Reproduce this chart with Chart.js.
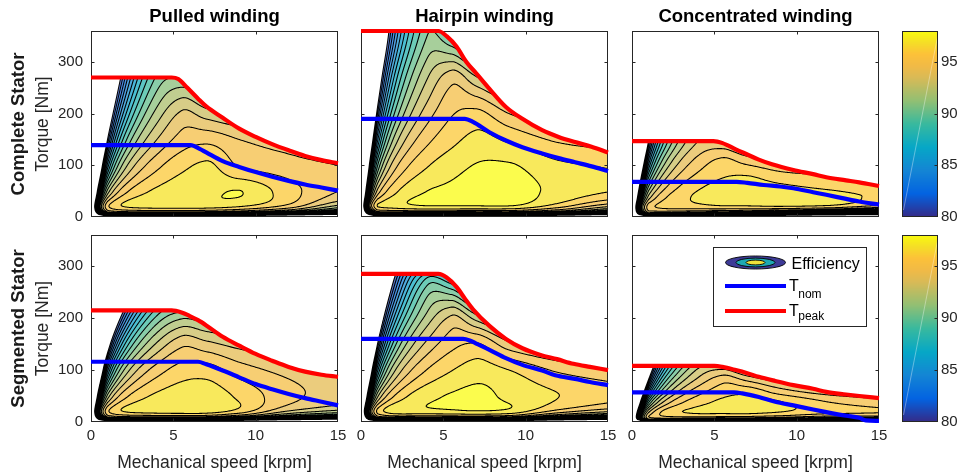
<!DOCTYPE html>
<html>
<head>
<meta charset="utf-8">
<title>Efficiency maps</title>
<script src="https://cdn.jsdelivr.net/npm/chart.js@4.4.1/dist/chart.umd.min.js"></script>
<style>
  html, body { margin: 0; padding: 0; background: #ffffff; }
  #figure { position: relative; width: 968px; height: 474px; overflow: hidden; background: #ffffff; }
  #figure canvas { position: absolute; left: 0; top: 0; }
</style>
</head>
<body>
<div id="figure"></div>
<script>
// ---------------- data ----------------
const speedTicks = [0, 5, 10, 15];
const torqueTicks = [0, 100, 200, 300];
const efficiencyTicks = [80, 85, 90, 95];
const contourLevels = [80, 81, 82, 83, 84, 85, 86, 87, 88, 89, 90, 91, 92, 93, 94, 95, 96, 97];
const windingTitles = ['Pulled winding', 'Hairpin winding', 'Concentrated winding'];
const statorLabels = ['Complete Stator', 'Segmented Stator'];
const speedRange = [0, 15];
const torqueRange = [0, 360];
const efficiencyRange = [80, 98];

// efficiency map samples: rows = torque (Nm), columns = speed (krpm), values in %
const mapSpeeds = [1, 2, 4, 5.5, 7, 9, 12, 15];
const distributedTorques = [5, 20, 50, 100, 150, 200, 270, 360];
const concentratedTorques = [5, 10, 20, 40, 60, 80, 110, 150];

const pulledCompleteEfficiency = [
  [89.5, 89.5, 89.3, 89.2, 89.0, 88.0, 85.0, 80.0],
  [94.8, 96.0, 96.4, 96.4, 96.4, 96.0, 94.5, 91.5],
  [91.3, 94.6, 96.2, 96.6, 96.8, 97.02, 95.4, 94.0],
  [85.3, 91.4, 94.7, 95.7, 96.2, 94.9, 94.4, 94.0],
  [80.0, 88.3, 93.0, 94.4, 94.7, 94.0, 93.3, 92.6],
  [75.3, 85.3, 91.4, 93.2, 92.5, 91.7, 90.8, 90.1],
  [69.5, 81.5, 89.2, 90.0, 88.6, 87.4, 86.2, 85.3],
  [63.3, 77.1, 86.5, 83.4, 81.5, 79.9, 78.5, 77.6]
];
const hairpinCompleteEfficiency = [
  [89.5, 89.3, 89.0, 88.8, 88.6, 88.4, 86.5, 82.0],
  [96.0, 96.4, 96.8, 96.8, 96.8, 96.8, 95.3, 93.0],
  [93.3, 95.7, 97.0, 97.2, 97.4, 97.45, 96.7, 96.05],
  [88.9, 93.5, 95.9, 96.6, 97.05, 97.1, 96.2, 95.9],
  [84.7, 91.2, 94.7, 95.7, 96.3, 95.8, 94.8, 94.3],
  [80.9, 88.9, 93.5, 94.9, 95.3, 94.0, 92.6, 91.6],
  [76.1, 86.0, 91.9, 93.6, 92.1, 90.1, 88.2, 87.0],
  [70.6, 82.4, 89.8, 88.4, 85.2, 82.7, 80.6, 79.2]
];
const concentratedCompleteEfficiency = [
  [90.6, 89.8, 88.7, 88.1, 87.6, 86.8, 84.2, 82.0],
  [93.6, 93.6, 93.2, 92.9, 92.6, 92.1, 90.6, 88.0],
  [94.6, 95.3, 95.6, 95.8, 95.8, 95.9, 95.6, 94.5],
  [92.2, 94.8, 96.15, 96.5, 96.6, 96.6, 96.4, 95.8],
  [89.9, 93.7, 95.8, 96.3, 96.45, 96.15, 95.7, 95.1],
  [87.5, 92.5, 95.2, 95.9, 96.0, 95.4, 95.0, 94.4],
  [84.0, 90.6, 94.3, 95.2, 94.5, 93.7, 92.9, 92.5],
  [79.8, 88.1, 92.9, 93.1, 91.7, 90.5, 89.4, 89.0]
];
const pulledSegmentedEfficiency = [
  [89.5, 89.5, 89.3, 89.2, 89.0, 87.0, 82.5, 79.0],
  [94.8, 96.0, 96.4, 96.5, 96.45, 95.5, 92.8, 91.5],
  [91.3, 94.6, 96.2, 96.55, 96.65, 95.8, 94.3, 93.5],
  [84.6, 91.0, 94.5, 95.45, 95.5, 94.5, 93.65, 93.1],
  [77.5, 86.7, 92.15, 93.74, 93.3, 92.6, 92.0, 91.6],
  [69.8, 81.7, 89.3, 90.9, 90.4, 89.9, 89.6, 89.3],
  [58.6, 73.5, 84.1, 84.7, 84.8, 84.8, 84.9, 84.9],
  [44.8, 61.6, 72.1, 74.0, 75.2, 76.1, 77.0, 77.5]
];
const hairpinSegmentedEfficiency = [
  [90.0, 90.0, 89.8, 89.7, 89.5, 89.0, 84.0, 80.0],
  [95.27, 96.5, 96.6, 96.7, 96.85, 96.6, 94.47, 93.04],
  [91.73, 94.98, 96.7, 97.1, 97.32, 96.75, 96.01, 95.38],
  [85.68, 91.72, 95.03, 95.96, 96.48, 96.0, 94.83, 94.26],
  [80.03, 88.42, 93.26, 94.65, 95.1, 93.3, 91.9, 91.06],
  [74.68, 85.07, 91.38, 93.25, 91.6, 89.3, 87.4, 86.3],
  [67.6, 80.28, 88.56, 87.56, 83.96, 81.3, 79.0, 77.7],
  [59.0, 73.9, 78.5, 72.8, 69.9, 67.7, 65.9, 64.9]
];
const concentratedSegmentedEfficiency = [
  [92.7, 92.6, 92.0, 91.6, 91.3, 90.7, 89.4, 88.5],
  [94.0, 94.85, 95.0, 94.9, 94.8, 94.4, 93.5, 93.5],
  [92.65, 95.3, 96.2, 96.25, 96.33, 96.05, 95.4, 95.1],
  [88.4, 93.1, 95.55, 96.18, 96.53, 96.0, 94.9, 94.3],
  [84.2, 90.8, 94.5, 95.5, 95.6, 94.4, 93.3, 92.8],
  [80.25, 88.6, 93.3, 94.7, 93.9, 92.6, 91.4, 90.7],
  [75.0, 85.3, 91.5, 92.1, 90.5, 89.2, 88.2, 87.5],
  [68.9, 81.25, 87.7, 85.9, 84.9, 84.0, 83.4, 82.9]
];

// torque envelopes as [speed krpm, torque Nm]
const pulledCompletePeak = [[0,270],[4.9,270],[5.3,267],[5.85,250],[6.5,229],[7,214],[8,192],[9,171],[10,155],[11,141],[12,129],[13,118],[14,110],[15,104]];
const pulledCompleteNominal = [[0,139],[6.05,139],[6.6,132],[7,125],[8,108],[9,97],[10,87],[11,78],[12,70],[13,63],[14,57],[15,51]];
const hairpinCompletePeak = [[0,360],[4.7,360],[5.2,350],[5.8,330],[6.4,300],[7,278],[7.8,248],[8.8,213],[9.8,190],[11,168],[12,155],[13,145],[14,136],[15,125]];
const hairpinCompleteNominal = [[0,190],[6.3,190],[6.8,184],[7.8,164],[8.8,148],[9.8,135],[11,123],[12,114],[13,106],[14,98],[15,89]];
const concentratedCompletePeak = [[0,147],[4.95,147],[5.5,143],[6.3,131],[7,121],[7.7,111],[8.5,102],[9.8,91],[11,83],[11.8,77],[13,71],[13.8,67],[15,60]];
const concentratedCompleteNominal = [[0,68],[6.35,68],[7,66],[8,62],[9,59],[9.8,55.6],[11,48],[11.8,43],[13,35],[13.8,30],[15,24]];
const pulledSegmentedPeak = [[0,215],[4.9,215],[5.5,211],[6,204],[6.5,196],[7,186],[8,164],[9,147],[10,131],[11,118],[12,106],[13,97],[14,91],[15,87]];
const pulledSegmentedNominal = [[0,116],[6.5,116],[7,111],[8,99],[9,86],[10,73],[11,63],[12,54],[13,46],[14,39],[15,32]];
const hairpinSegmentedPeak = [[0,285],[4.7,285],[5.2,278],[5.8,260],[6.3,238],[6.8,217],[7.8,185],[8.8,160],[9.8,142],[10.9,129],[11.9,121],[12.9,112],[13.9,106],[15,100]];
const hairpinSegmentedNominal = [[0,160],[6.2,160],[6.6,157],[7,151],[7.8,139],[8.8,123],[9.8,110],[11,99],[11.8,90],[13,83],[13.9,77],[15,71]];
const concentratedSegmentedPeak = [[0,108],[5,108],[5.5,106],[6.3,100],[7,94],[7.7,87],[8.7,79],[9.8,71],[11,64],[11.8,58],[13,53],[13.8,50],[15,46]];
const concentratedSegmentedNominal = [[0,57],[6.2,57],[6.7,55],[7.7,48],[8.7,39],[9.8,32],[11,24],[11.8,19],[13,12],[13.8,8],[14.2,3],[15,2]];

// ---------------- layout & style ----------------
const W = 968, H = 474;
const FONT = "'Liberation Sans', Arial, Helvetica, sans-serif";
const AXIS_COLOR = '#262626';
const colsX = [[91, 338], [361, 608], [632, 879]];
const rowsY = [[31, 217], [235, 422]];
const barX = [902, 938];
const FILL_ALPHA = 0.74;

Chart.defaults.font.family = FONT;
Chart.defaults.color = AXIS_COLOR;
Chart.defaults.animation = false;

const panels = [
  { row: 0, col: 0, eff: pulledCompleteEfficiency, torques: distributedTorques, peak: pulledCompletePeak, nom: pulledCompleteNominal },
  { row: 0, col: 1, eff: hairpinCompleteEfficiency, torques: distributedTorques, peak: hairpinCompletePeak, nom: hairpinCompleteNominal },
  { row: 0, col: 2, eff: concentratedCompleteEfficiency, torques: concentratedTorques, peak: concentratedCompletePeak, nom: concentratedCompleteNominal },
  { row: 1, col: 0, eff: pulledSegmentedEfficiency, torques: distributedTorques, peak: pulledSegmentedPeak, nom: pulledSegmentedNominal },
  { row: 1, col: 1, eff: hairpinSegmentedEfficiency, torques: distributedTorques, peak: hairpinSegmentedPeak, nom: hairpinSegmentedNominal },
  { row: 1, col: 2, eff: concentratedSegmentedEfficiency, torques: concentratedTorques, peak: concentratedSegmentedPeak, nom: concentratedSegmentedNominal }
];

// ---------------- helpers ----------------
// parula-like colormap as [position, r, g, b]
const parulaStops = [
  [0.0, 53, 42, 135], [0.125, 3, 99, 225], [0.25, 20, 133, 212], [0.375, 6, 167, 198],
  [0.5, 56, 185, 158], [0.625, 146, 191, 115], [0.75, 217, 186, 86], [0.8125, 241, 186, 70],
  [0.875, 252, 193, 57], [0.9375, 245, 222, 38], [1.0, 249, 251, 14]
];
function parula(t) {
  t = Math.min(1, Math.max(0, t));
  let i = 0;
  while (i < parulaStops.length - 2 && t > parulaStops[i + 1][0]) i++;
  const a = parulaStops[i], b = parulaStops[i + 1];
  const f = (t - a[0]) / (b[0] - a[0]);
  return [a[1] + (b[1] - a[1]) * f, a[2] + (b[2] - a[2]) * f, a[3] + (b[3] - a[3]) * f];
}

// monotone cubic (PCHIP) interpolation
function pchipSlopes(x, y) {
  const n = x.length, h = [], d = [], m = new Array(n);
  for (let i = 0; i < n - 1; i++) { h[i] = x[i + 1] - x[i]; d[i] = (y[i + 1] - y[i]) / h[i]; }
  m[0] = d[0]; m[n - 1] = d[n - 2];
  for (let i = 1; i < n - 1; i++) {
    if (d[i - 1] * d[i] <= 0) m[i] = 0;
    else {
      const w1 = 2 * h[i] + h[i - 1], w2 = h[i] + 2 * h[i - 1];
      m[i] = (w1 + w2) / (w1 / d[i - 1] + w2 / d[i]);
    }
  }
  return m;
}
function pchipEval(x, y, m, v) {
  const n = x.length;
  if (v <= x[0]) return y[0];
  if (v >= x[n - 1]) return y[n - 1];
  let i = 0;
  while (v > x[i + 1]) i++;
  const h = x[i + 1] - x[i], t = (v - x[i]) / h, t2 = t * t, t3 = t2 * t;
  return (2 * t3 - 3 * t2 + 1) * y[i] + (t3 - 2 * t2 + t) * h * m[i] + (-2 * t3 + 3 * t2) * y[i + 1] + (t3 - t2) * h * m[i + 1];
}
function envelopeAt(pts, s) {
  if (s <= pts[0][0]) return pts[0][1];
  for (let k = 1; k < pts.length; k++) {
    if (s <= pts[k][0]) {
      const [x0, y0] = pts[k - 1], [x1, y1] = pts[k];
      return y0 + (y1 - y0) * (s - x0) / (x1 - x0);
    }
  }
  return pts[pts.length - 1][1];
}

// Efficiency field on the pixel grid of the plot area. Interpolation is done on
// the loss power implied by each sample (P*(1/eta-1)), which keeps the map smooth.
function computeField(p, xs, ys, a, w, h) {
  const speeds = mapSpeeds, torques = p.torques;
  const loss = torques.map((t, i) => speeds.map((n, j) => t * n * (100 / p.eff[i][j] - 1)));
  const rowSlopes = loss.map(row => pchipSlopes(speeds, row));
  const field = new Float32Array(w * h);
  for (let i = 0; i < w; i++) {
    const n = xs.getValueForPixel(a.left + i + 0.5);
    const col = loss.map((row, r) => pchipEval(speeds, row, rowSlopes[r], n));
    const colSlopes = pchipSlopes(torques, col);
    const tMax = envelopeAt(p.peak, n);
    for (let j = 0; j < h; j++) {
      const T = ys.getValueForPixel(a.top + j + 0.5);
      let v;
      if (T > tMax) v = NaN;
      else if (n <= 0 || T <= 0) v = 0;
      else {
        const L = pchipEval(torques, col, colSlopes, T);
        const P = T * n;
        v = 100 * P / (P + L);
      }
      field[j * w + i] = v;
    }
  }
  return field;
}

function drawContours(ctx, f, w, h, x0, y0, levels) {
  const lo = levels[0], hi = levels[levels.length - 1];
  ctx.beginPath();
  const seg = (p, q) => { ctx.moveTo(p[0], p[1]); ctx.lineTo(q[0], q[1]); };
  for (let j = 0; j < h - 1; j++) {
    for (let i = 0; i < w - 1; i++) {
      const a = f[j * w + i], b = f[j * w + i + 1], c = f[(j + 1) * w + i + 1], d = f[(j + 1) * w + i];
      if (isNaN(a) || isNaN(b) || isNaN(c) || isNaN(d)) continue;
      const mn = Math.min(a, b, c, d), mx = Math.max(a, b, c, d);
      if (mx < lo || mn > hi) continue;
      const px = x0 + i + 0.5, py = y0 + j + 0.5;
      for (const L of levels) {
        if (L <= mn || L > mx) continue;
        const idx = (a >= L ? 8 : 0) | (b >= L ? 4 : 0) | (c >= L ? 2 : 0) | (d >= L ? 1 : 0);
        if (idx === 0 || idx === 15) continue;
        const top = () => [px + (L - a) / (b - a), py];
        const right = () => [px + 1, py + (L - b) / (c - b)];
        const bottom = () => [px + (L - d) / (c - d), py + 1];
        const left = () => [px, py + (L - a) / (d - a)];
        const centerUp = (a + b + c + d) / 4 >= L;
        switch (idx) {
          case 1: case 14: seg(left(), bottom()); break;
          case 2: case 13: seg(bottom(), right()); break;
          case 3: case 12: seg(left(), right()); break;
          case 4: case 11: seg(top(), right()); break;
          case 6: case 9: seg(top(), bottom()); break;
          case 7: case 8: seg(left(), top()); break;
          case 5:
            if (centerUp) { seg(left(), top()); seg(right(), bottom()); }
            else { seg(top(), right()); seg(left(), bottom()); }
            break;
          case 10:
            if (centerUp) { seg(top(), right()); seg(left(), bottom()); }
            else { seg(left(), top()); seg(right(), bottom()); }
            break;
        }
      }
    }
  }
  ctx.stroke();
}

// ---------------- plugins ----------------
const effMapPlugin = {
  id: 'effMap',
  beforeDatasetsDraw(chart, args, opts) {
    const p = opts.panel;
    if (!p) return;
    const { ctx, chartArea: a, scales: { x, y } } = chart;
    const w = Math.round(a.right - a.left), h = Math.round(a.bottom - a.top);
    const field = computeField(p, x, y, a, w, h);
    const img = ctx.createImageData(w, h);
    const span = efficiencyRange[1] - efficiencyRange[0];
    const topLevel = contourLevels[contourLevels.length - 1];
    for (let k = 0; k < w * h; k++) {
      const v = field[k];
      if (isNaN(v) || v < contourLevels[0]) continue;
      // each band between two levels takes the colour of its upper level
      const band = Math.min(Math.floor(v), topLevel) + 1;
      const c = parula((band - efficiencyRange[0]) / span);
      img.data[4 * k] = Math.round(c[0] * FILL_ALPHA + 255 * (1 - FILL_ALPHA));
      img.data[4 * k + 1] = Math.round(c[1] * FILL_ALPHA + 255 * (1 - FILL_ALPHA));
      img.data[4 * k + 2] = Math.round(c[2] * FILL_ALPHA + 255 * (1 - FILL_ALPHA));
      img.data[4 * k + 3] = 255;
    }
    ctx.putImageData(img, a.left, a.top);

    ctx.save();
    ctx.beginPath();
    ctx.rect(a.left, a.top, w, h);
    ctx.clip();
    ctx.strokeStyle = '#000000';
    ctx.lineWidth = 1.05;
    ctx.lineCap = 'round';
    drawContours(ctx, field, w, h, a.left, a.top, contourLevels);
    ctx.restore();

    // axes box and inward ticks
    ctx.save();
    ctx.strokeStyle = AXIS_COLOR;
    ctx.lineWidth = 1;
    ctx.strokeRect(a.left + 0.5, a.top + 0.5, w - 1, h - 1);
    ctx.beginPath();
    speedTicks.forEach(v => {
      const px = Math.round(x.getPixelForValue(v)) + 0.5;
      if (px < a.left + 2 || px > a.right - 2) return;
      ctx.moveTo(px, a.bottom); ctx.lineTo(px, a.bottom - 3.5);
      ctx.moveTo(px, a.top); ctx.lineTo(px, a.top + 3.5);
    });
    torqueTicks.forEach(v => {
      const py = Math.round(y.getPixelForValue(v)) + 0.5;
      if (py < a.top + 2 || py > a.bottom - 2) return;
      ctx.moveTo(a.left, py); ctx.lineTo(a.left + 3.5, py);
      ctx.moveTo(a.right, py); ctx.lineTo(a.right - 3.5, py);
    });
    ctx.stroke();
    ctx.restore();
  }
};

const panelTextPlugin = {
  id: 'panelText',
  afterDraw(chart, args, opts) {
    const p = opts.panel;
    if (!p) return;
    const { ctx, chartArea: a } = chart;
    const cx = (a.left + a.right) / 2, cy = (a.top + a.bottom) / 2;
    ctx.save();
    ctx.textBaseline = 'alphabetic';
    ctx.textAlign = 'center';
    if (p.row === 0) {
      ctx.fillStyle = '#000000';
      ctx.font = `bold 18.5px ${FONT}`;
      ctx.fillText(windingTitles[p.col], cx, 21.5);
    }
    if (p.row === 1) {
      ctx.fillStyle = AXIS_COLOR;
      ctx.font = `17.5px ${FONT}`;
      ctx.fillText('Mechanical speed [krpm]', cx, 467.5);
    }
    if (p.col === 0) {
      ctx.save();
      ctx.translate(23.5, cy);
      ctx.rotate(-Math.PI / 2);
      ctx.fillStyle = '#1a1a1a';
      ctx.font = `bold 18.5px ${FONT}`;
      ctx.fillText(statorLabels[p.row], 0, 0);
      ctx.restore();
      ctx.save();
      ctx.translate(47.5, cy);
      ctx.rotate(-Math.PI / 2);
      ctx.fillStyle = AXIS_COLOR;
      ctx.font = `17.5px ${FONT}`;
      ctx.fillText('Torque [Nm]', 0, 0);
      ctx.restore();
    }
    ctx.restore();
  }
};

const mapLegendPlugin = {
  id: 'mapLegend',
  afterDraw(chart, args, opts) {
    if (!opts.show) return;
    const ctx = chart.ctx;
    ctx.save();
    ctx.fillStyle = '#ffffff';
    ctx.fillRect(713.5, 247.5, 153, 79);
    ctx.strokeStyle = AXIS_COLOR;
    ctx.lineWidth = 1;
    ctx.strokeRect(713.5, 247.5, 153, 79);
    const ex = 755.5, ey = 262.5;
    [[30, 6.5, '#3d3a97'], [19.5, 4.4, '#1ea9b2'], [9.5, 2.4, '#eee23a']].forEach(([rx, ry, col]) => {
      ctx.beginPath();
      ctx.ellipse(ex, ey, rx, ry, 0, 0, 2 * Math.PI);
      ctx.fillStyle = col;
      ctx.fill();
      ctx.lineWidth = 0.9;
      ctx.strokeStyle = '#000000';
      ctx.stroke();
    });
    ctx.fillStyle = '#000000';
    ctx.textAlign = 'left';
    ctx.textBaseline = 'alphabetic';
    ctx.font = `16px ${FONT}`;
    ctx.fillText('Efficiency', 791.5, 268.5);
    ctx.lineWidth = 4;
    ctx.lineCap = 'butt';
    ctx.strokeStyle = '#0000ff';
    ctx.beginPath(); ctx.moveTo(725, 286); ctx.lineTo(786, 286); ctx.stroke();
    ctx.strokeStyle = '#ff0000';
    ctx.beginPath(); ctx.moveTo(725, 311); ctx.lineTo(786, 311); ctx.stroke();
    ctx.font = `16px ${FONT}`;
    const tw = ctx.measureText('T').width;
    ctx.fillText('T', 789, 290.5);
    ctx.fillText('T', 789, 315.5);
    ctx.font = `12px ${FONT}`;
    ctx.fillText('nom', 789 + tw - 0.5, 297.5);
    ctx.fillText('peak', 789 + tw - 0.5, 319.5);
    ctx.restore();
  }
};

const colorbarPlugin = {
  id: 'colorbar',
  beforeDatasetsDraw(chart) {
    const { ctx, chartArea: a, scales: { y } } = chart;
    const span = efficiencyRange[1] - efficiencyRange[0];
    ctx.save();
    for (let py = Math.floor(a.top); py < a.bottom; py++) {
      const v = y.getValueForPixel(py + 0.5);
      const c = parula((v - efficiencyRange[0]) / span);
      ctx.fillStyle = `rgb(${Math.round(c[0])},${Math.round(c[1])},${Math.round(c[2])})`;
      ctx.fillRect(a.left, py, a.right - a.left, 1);
    }
    // faint diagonal sheen across the bar
    ctx.strokeStyle = 'rgba(255,255,255,0.45)';
    ctx.lineWidth = 0.8;
    ctx.beginPath();
    ctx.moveTo(a.left + 1.5, a.bottom - 7);
    ctx.lineTo(a.right - 0.5, a.top + 6);
    ctx.stroke();
    ctx.strokeStyle = AXIS_COLOR;
    ctx.lineWidth = 1;
    ctx.strokeRect(a.left + 0.5, a.top + 0.5, a.right - a.left - 1, a.bottom - a.top - 1);
    ctx.beginPath();
    efficiencyTicks.forEach(v => {
      const py = Math.round(y.getPixelForValue(v)) + 0.5;
      if (py > a.bottom - 2) return;
      ctx.moveTo(a.right, py); ctx.lineTo(a.right - 3.5, py);
    });
    ctx.stroke();
    ctx.restore();
  }
};

// ---------------- charts ----------------
const figure = document.getElementById('figure');
function newCanvas() {
  const c = document.createElement('canvas');
  c.width = W; c.height = H;
  c.style.width = W + 'px'; c.style.height = H + 'px';
  figure.appendChild(c);
  return c;
}

const Y_AXIS_W = 40, X_AXIS_H = 30;
panels.forEach(p => {
  const [l, r] = colsX[p.col], [t, b] = rowsY[p.row];
  const toPts = arr => arr.map(([sx, ty]) => ({ x: sx, y: ty }));
  new Chart(newCanvas(), {
    type: 'line',
    data: {
      datasets: [
        { data: toPts(p.nom), borderColor: '#0000ff', borderWidth: 4.2, pointRadius: 0, cubicInterpolationMode: 'monotone', clip: 12, borderCapStyle: 'butt' },
        { data: toPts(p.peak), borderColor: '#ff0000', borderWidth: 4.2, pointRadius: 0, cubicInterpolationMode: 'monotone', clip: 12, borderCapStyle: 'butt' }
      ]
    },
    options: {
      responsive: false,
      animation: false,
      events: [],
      layout: { padding: { left: l - Y_AXIS_W, right: W - r, top: t, bottom: H - b - X_AXIS_H } },
      plugins: {
        legend: { display: false },
        tooltip: { enabled: false },
        effMap: { panel: p },
        panelText: { panel: p },
        mapLegend: { show: p.row === 1 && p.col === 2 }
      },
      scales: {
        x: {
          type: 'linear', min: speedRange[0], max: speedRange[1],
          grid: { display: false, drawTicks: false }, border: { display: false },
          ticks: { display: p.row === 1, font: { size: 15 }, color: AXIS_COLOR, padding: 5, maxRotation: 0, autoSkip: false },
          afterBuildTicks: s => { s.ticks = speedTicks.map(v => ({ value: v })); },
          afterFit: s => { s.height = X_AXIS_H; }
        },
        y: {
          type: 'linear', min: torqueRange[0], max: torqueRange[1],
          grid: { display: false, drawTicks: false }, border: { display: false },
          ticks: { display: p.col === 0, font: { size: 15 }, color: AXIS_COLOR, padding: 8, autoSkip: false },
          afterBuildTicks: s => { s.ticks = torqueTicks.map(v => ({ value: v })); },
          afterFit: s => { s.width = Y_AXIS_W; }
        }
      }
    },
    plugins: [effMapPlugin, panelTextPlugin, mapLegendPlugin]
  });
});

rowsY.forEach(([t, b]) => {
  new Chart(newCanvas(), {
    type: 'scatter',
    data: { datasets: [] },
    options: {
      responsive: false,
      animation: false,
      events: [],
      layout: { padding: { left: barX[0], right: W - barX[1] - 30, top: t, bottom: H - b } },
      plugins: { legend: { display: false }, tooltip: { enabled: false } },
      scales: {
        x: { display: false, min: 0, max: 1 },
        y: {
          position: 'right', min: efficiencyRange[0], max: efficiencyRange[1],
          grid: { display: false, drawTicks: false }, border: { display: false },
          ticks: { font: { size: 15 }, color: AXIS_COLOR, padding: 3, autoSkip: false },
          afterBuildTicks: s => { s.ticks = efficiencyTicks.map(v => ({ value: v })); },
          afterFit: s => { s.width = 30; }
        }
      }
    },
    plugins: [colorbarPlugin]
  });
});
</script>
</body>
</html>
